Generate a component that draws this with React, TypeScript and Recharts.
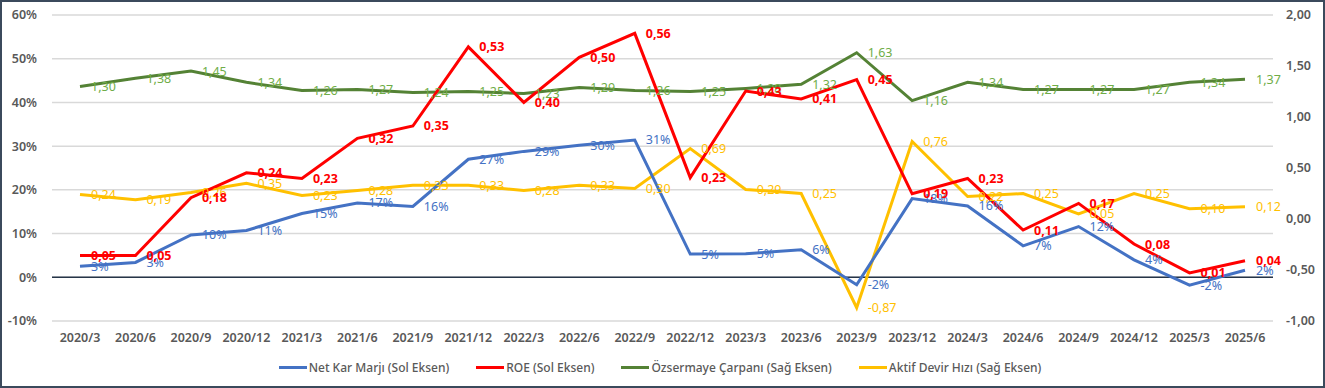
import React from "react";
import {
  LineChart,
  Line,
  XAxis,
  YAxis,
  CartesianGrid,
  ReferenceLine,
  Legend,
  LabelList,
} from "recharts";

const quarters: string[] = [
  "2020/3", "2020/6", "2020/9", "2020/12", "2021/3", "2021/6", "2021/9",
  "2021/12", "2022/3", "2022/6", "2022/9", "2022/12", "2023/3", "2023/6",
  "2023/9", "2023/12", "2024/3", "2024/6", "2024/9", "2024/12", "2025/3",
  "2025/6",
];

// sol eksen (oran)
const netKarMarji: number[] = [
  0.025, 0.034, 0.097, 0.107, 0.146, 0.17, 0.162, 0.27, 0.288, 0.302, 0.314,
  0.053, 0.054, 0.063, -0.017, 0.18, 0.163, 0.072, 0.116, 0.04, -0.018, 0.016,
];

const roe: number[] = [
  0.05, 0.05, 0.182, 0.239, 0.226, 0.318, 0.346, 0.527, 0.4, 0.503, 0.558,
  0.228, 0.426, 0.408, 0.452, 0.191, 0.226, 0.108, 0.169, 0.076, 0.01, 0.038,
];

// sağ eksen
const ozsermayeCarpani: number[] = [
  1.3, 1.38, 1.45, 1.34, 1.26, 1.27, 1.24, 1.25, 1.23, 1.29, 1.26, 1.25, 1.28,
  1.32, 1.63, 1.16, 1.34, 1.27, 1.27, 1.27, 1.34, 1.37,
];

const aktifDevirHizi: number[] = [
  0.24, 0.19, 0.26, 0.35, 0.23, 0.28, 0.33, 0.33, 0.28, 0.33, 0.3, 0.69, 0.29,
  0.25, -0.87, 0.76, 0.22, 0.25, 0.05, 0.25, 0.1, 0.12,
];

const leftTicks = [-0.1, 0, 0.1, 0.2, 0.3, 0.4, 0.5, 0.6];
const rightTicks = [-1, -0.5, 0, 0.5, 1, 1.5, 2];

const data = quarters.map((q, i) => ({
  q,
  net: netKarMarji[i],
  roe: roe[i],
  ozs: ozsermayeCarpani[i],
  aktif: aktifDevirHizi[i],
}));

const pct = (v: number) => `${Math.round(v * 100)}%`;
const dec = (v: number) => v.toFixed(2).replace(".", ",");

const FONT = "'Noto Sans', sans-serif";
const AXIS_COLOR = "#595959";
const tickStyle = {
  fill: AXIS_COLOR,
  fontSize: 12.5,
  fontFamily: FONT,
  fontWeight: 600,
};

const legendItems = [
  { name: "Net Kar Marjı (Sol Eksen)", color: "#4472C4" },
  { name: "ROE (Sol Eksen)", color: "#FF0000" },
  { name: "Özsermaye Çarpanı (Sağ Eksen)", color: "#548235" },
  { name: "Aktif Devir Hızı (Sağ Eksen)", color: "#FFC000" },
];

const renderLegend = () => (
  <div
    style={{
      display: "flex",
      justifyContent: "center",
      gap: 27,
      fontFamily: FONT,
      fontSize: 12,
      fontWeight: 500,
      color: AXIS_COLOR,
    }}
  >
    {legendItems.map((it) => (
      <span key={it.name} style={{ display: "flex", alignItems: "center" }}>
        <span
          style={{
            display: "inline-block",
            width: 28,
            height: 3,
            background: it.color,
            marginRight: 2,
          }}
        />
        {it.name}
      </span>
    ))}
  </div>
);

const App: React.FC = () => {
  return (
    <div
      style={{
        position: "absolute",
        top: 0,
        left: 0,
        width: 1325,
        height: 388,
        background: "#fff",
      }}
    >
      <LineChart
        width={1325}
        height={388}
        data={data}
        margin={{ top: 15, right: 5, bottom: 5, left: 0 }}
      >
        <CartesianGrid
          yAxisId="left"
          vertical={false}
          stroke="#D9D9D9"
          strokeWidth={1.5}
        />
        <XAxis
          dataKey="q"
          axisLine={false}
          tickLine={false}
          tickSize={0}
          tickMargin={12}
          height={38}
          interval={0}
          padding={{ left: 28, right: 28 }}
          tick={tickStyle}
        />
        <YAxis
          yAxisId="left"
          domain={[-0.1, 0.6]}
          ticks={leftTicks}
          tickFormatter={pct}
          width={52}
          axisLine={false}
          tickLine={false}
          tickSize={0}
          tickMargin={15}
          tick={tickStyle}
        />
        <YAxis
          yAxisId="right"
          orientation="right"
          domain={[-1, 2]}
          ticks={rightTicks}
          tickFormatter={dec}
          width={47}
          axisLine={false}
          tickLine={false}
          tickSize={0}
          tickMargin={13}
          tick={tickStyle}
        />
        <ReferenceLine yAxisId="left" y={0} stroke="#263548" strokeWidth={1.5} />
        <Legend verticalAlign="bottom" height={24} content={renderLegend} />

        <Line
          yAxisId="right"
          dataKey="ozs"
          stroke="#548235"
          strokeWidth={3}
          dot={false}
          isAnimationActive={false}
        >
          <LabelList
            dataKey="ozs"
            position="right"
            offset={11}
            formatter={(v: any) => dec(Number(v))}
            style={{ fill: "#70AD47", fontSize: 12.5, fontFamily: FONT }}
          />
        </Line>
        <Line
          yAxisId="right"
          dataKey="aktif"
          stroke="#FFC000"
          strokeWidth={3}
          dot={false}
          isAnimationActive={false}
        >
          <LabelList
            dataKey="aktif"
            position="right"
            offset={11}
            formatter={(v: any) => dec(Number(v))}
            style={{ fill: "#FFC000", fontSize: 12.5, fontFamily: FONT }}
          />
        </Line>
        <Line
          yAxisId="left"
          dataKey="net"
          stroke="#4472C4"
          strokeWidth={3}
          dot={false}
          isAnimationActive={false}
        >
          <LabelList
            dataKey="net"
            position="right"
            offset={11}
            formatter={(v: any) => pct(Number(v))}
            style={{ fill: "#4472C4", fontSize: 12.5, fontFamily: FONT }}
          />
        </Line>
        <Line
          yAxisId="left"
          dataKey="roe"
          stroke="#FF0000"
          strokeWidth={3}
          dot={false}
          isAnimationActive={false}
        >
          <LabelList
            dataKey="roe"
            position="right"
            offset={11}
            formatter={(v: any) => dec(Number(v))}
            style={{
              fill: "#FF0000",
              fontSize: 12.5,
              fontWeight: 700,
              fontFamily: FONT,
            }}
          />
        </Line>
      </LineChart>
      <div
        style={{
          position: "absolute",
          inset: 0,
          border: "2px solid #3B4A5C",
          pointerEvents: "none",
        }}
      />
    </div>
  );
};

export default App;
